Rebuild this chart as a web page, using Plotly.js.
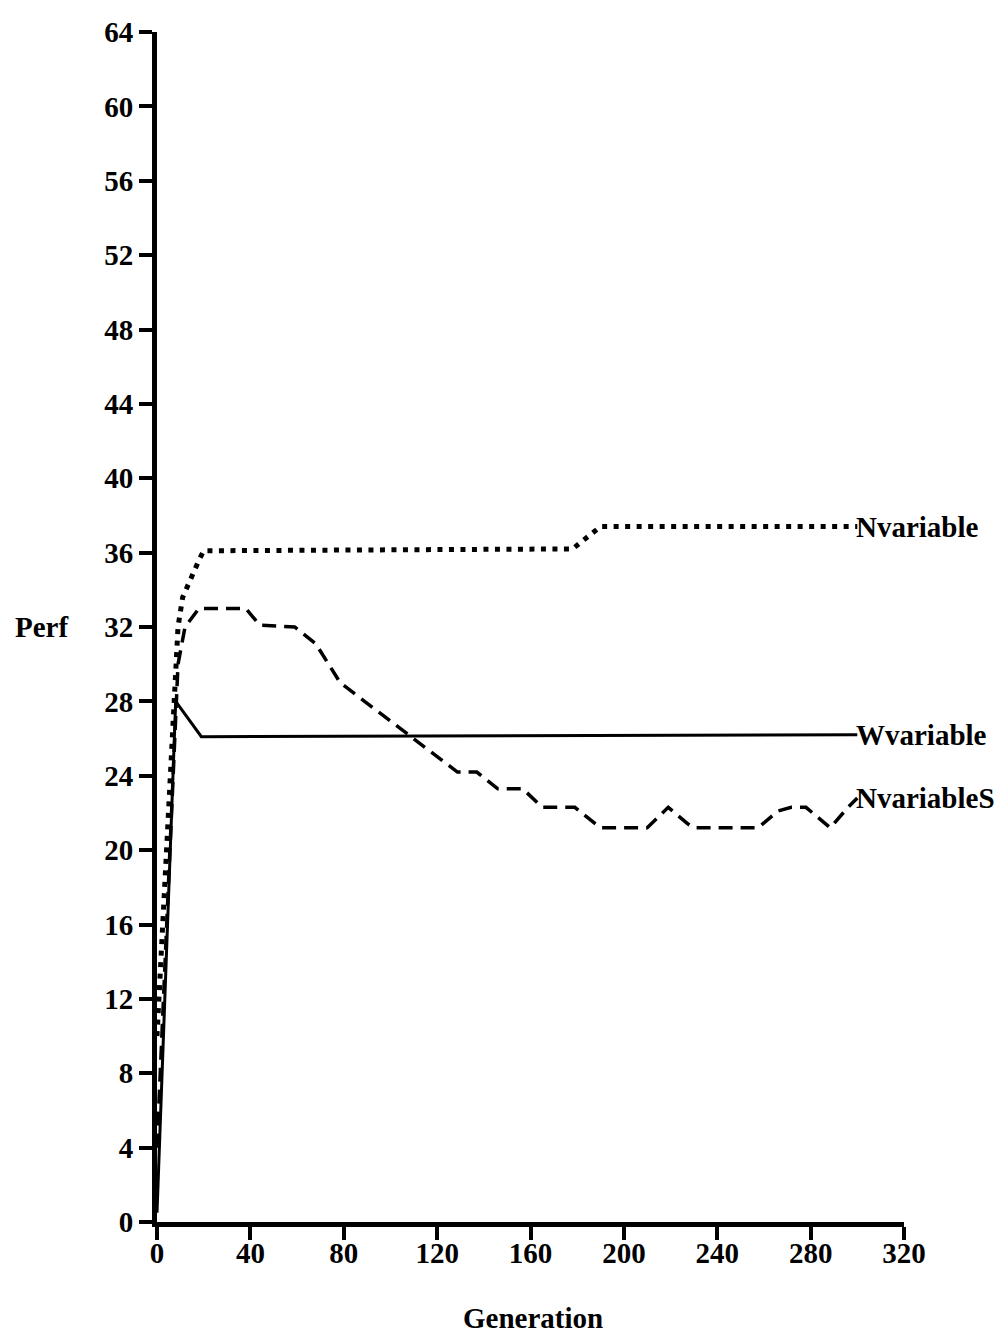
<!DOCTYPE html>
<html>
<head>
<meta charset="utf-8">
<script src="https://cdn.plot.ly/plotly-3.0.1.min.js"></script>
<style>
  html, body { margin: 0; padding: 0; background: #fff; }
  #chart { width: 999px; height: 1336px; }
</style>
</head>
<body>
<div id="chart"></div>
<script>
// Performance per generation for the three runs
const nvarGen  = [0, 8, 9, 11, 13, 15, 18, 20, 178, 184, 190, 300];
const nvarPerf = [10, 29, 32, 33.6, 34.2, 34.8, 35.6, 36.1, 36.2, 36.8, 37.4, 37.4];

const wvarGen  = [0, 8, 19, 300];
const wvarPerf = [0.5, 28, 26.1, 26.2];

const nvarSGen  = [0, 9, 12, 18, 38, 44, 59, 68, 78.5, 108.6, 128.7, 137, 146, 156.7, 165, 179, 186, 190,
                   210, 219, 227.5, 230, 257.5, 266, 271.7, 278, 288.4, 296, 300];
const nvarSPerf = [4, 30, 32, 33, 33, 32.1, 32, 31.1, 29, 26.1, 24.2, 24.2, 23.3, 23.3, 22.3, 22.3, 21.6, 21.2,
                   21.2, 22.3, 21.4, 21.2, 21.2, 22.1, 22.3, 22.3, 21.2, 22.3, 22.8];

const seriesNames = ['Nvariable', 'Wvariable', 'NvariableS'];
const xTicks = [0, 40, 80, 120, 160, 200, 240, 280, 320];
const yTicks = [0, 4, 8, 12, 16, 20, 24, 28, 32, 36, 40, 44, 48, 52, 56, 60, 64];

const FONT = 'Liberation Serif, Times New Roman, serif';
const txt = { family: FONT, size: 29, color: '#000', weight: 'bold' };

const traces = [
  { x: nvarGen, y: nvarPerf, mode: 'lines', name: seriesNames[0],
    line: { color: '#000', width: 5, dash: '5px,6.5px' } },
  { x: wvarGen, y: wvarPerf, mode: 'lines', name: seriesNames[1],
    line: { color: '#000', width: 3 } },
  { x: nvarSGen, y: nvarSPerf, mode: 'lines', name: seriesNames[2],
    line: { color: '#000', width: 3.5, dash: '14px,8px' } }
];

const ends = [
  [nvarGen, nvarPerf],
  [wvarGen, wvarPerf],
  [nvarSGen, nvarSPerf]
];

const annotations = seriesNames.map((name, i) => ({
  x: ends[i][0][ends[i][0].length - 1],
  y: ends[i][1][ends[i][1].length - 1],
  xref: 'x', yref: 'y',
  text: name, showarrow: false,
  xanchor: 'left', yanchor: 'middle', xshift: -3,
  font: txt
}));

annotations.push({
  x: -0.193, xref: 'paper', y: 32, yref: 'y',
  text: 'Perf', showarrow: false, xanchor: 'left', yanchor: 'middle',
  font: txt
});
annotations.push({
  x: 161, xref: 'x', y: -0.081, yref: 'paper',
  text: 'Generation', showarrow: false, xanchor: 'center', yanchor: 'middle',
  font: txt
});

const layout = {
  width: 999, height: 1336,
  margin: { l: 157, r: 95, t: 32, b: 114 },
  paper_bgcolor: '#fff', plot_bgcolor: '#fff',
  showlegend: false,
  font: txt,
  xaxis: {
    range: [0, 320], tickvals: xTicks, ticktext: xTicks.map(String),
    showgrid: false, zeroline: false,
    showline: true, linecolor: '#000', linewidth: 5,
    ticks: 'outside', ticklen: 13, tickwidth: 4, tickcolor: '#000',
    ticklabelstandoff: -12,
    tickfont: txt
  },
  yaxis: {
    range: [0, 64], tickvals: yTicks, ticktext: yTicks.map(String),
    showgrid: false, zeroline: false,
    showline: true, linecolor: '#000', linewidth: 5,
    ticks: 'outside', ticklen: 13, tickwidth: 4, tickcolor: '#000',
    ticklabelstandoff: 0,
    tickfont: txt
  },
  annotations: annotations
};

Plotly.newPlot('chart', traces, layout, { staticPlot: true });
</script>
</body>
</html>
